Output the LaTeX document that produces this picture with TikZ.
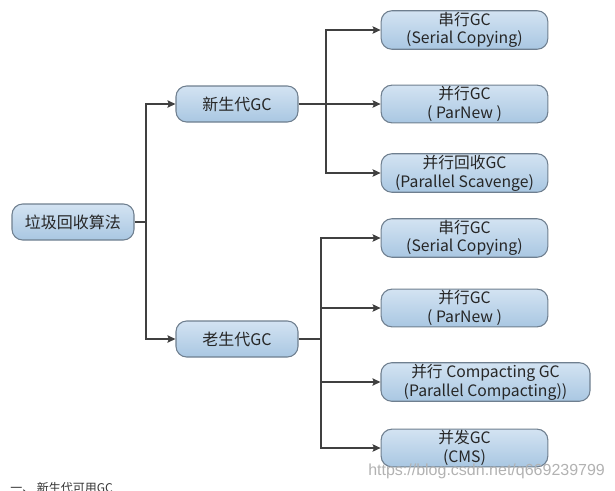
\documentclass[tikz,border=0pt]{standalone}
\usepackage{fontspec}
\setmainfont{Noto Sans CJK SC}
\newfontfamily\wmfont{Liberation Sans}
\usetikzlibrary{arrows.meta}
\definecolor{boxtop}{HTML}{D3E3F2}
\definecolor{boxbot}{HTML}{A9C7E2}
\definecolor{boxline}{HTML}{6F7F8F}
\definecolor{lnk}{HTML}{404040}
\tikzset{
  gcbox/.style={draw=boxline, line width=0.8pt, rounded corners=8pt,
    top color=boxtop, bottom color=boxbot, align=center, inner sep=1pt,
    text=black!85, font=\fontsize{11.8pt}{14pt}\selectfont},
  midbox/.style={gcbox, minimum width=91.5pt, minimum height=27pt, font=\fontsize{12pt}{14pt}\selectfont},
  leafbox/.style={gcbox, minimum width=125pt, minimum height=27pt},
  link/.style={draw=lnk, line width=1.4pt},
  arr/.style={link, -{Stealth[length=6pt,width=5.5pt,inset=1pt]}}
}
\begin{document}
\begin{tikzpicture}[x=0.75pt,y=-0.75pt]
\useasboundingbox (0,0) rectangle (615,490);
% nodes
\node[midbox] (root) at (73,222) {垃圾回收算法};
\node[midbox] (young) at (237,104) {新生代GC};
\node[midbox] (old) at (237,339) {老生代GC};
\node[leafbox] (y1) at (464.5,30) {串行GC\\(Serial Copying)};
\node[leafbox] (y2) at (464.5,104) {并行GC\\( ParNew )};
\node[leafbox] (y3) at (464.5,173) {并行回收GC\\(Parallel Scavenge)};
\node[leafbox] (o1) at (464.5,238) {串行GC\\(Serial Copying)};
\node[leafbox] (o2) at (464.5,308) {并行GC\\( ParNew )};
\node[leafbox, minimum width=156.75pt] (o3) at (485.5,382) {并行 Compacting GC\\(Parallel Compacting))};
\node[leafbox] (o4) at (464.5,448) {并发GC\\(CMS)};
% junctions
\coordinate (j1) at (146,222);
\coordinate (j2) at (326,104);
\coordinate (j3) at (321,339);
% connectors
\draw[link] (root.east) -- (j1);
\draw[arr] (j1) |- (young.west);
\draw[arr] (j1) |- (old.west);
\draw[arr] (young.east) -- (y2.west);
\draw[arr] (j2) |- (y1.west);
\draw[arr] (j2) |- (y3.west);
\draw[link] (old.east) -- (j3);
\draw[arr] (j3) |- (o1.west);
\draw[arr] (j3) |- (o2.west);
\draw[arr] (j3) |- (o3.west);
\draw[arr] (j3) |- (o4.west);
% watermark
\node[anchor=west, text=black!30, font=\wmfont\fontsize{12pt}{13pt}\selectfont, inner sep=0pt] (wm) at (368,471) {https://blog.csdn.net/q669239799};
% cut-off text at bottom
\begin{scope}
\clip (0,0) rectangle (615,490);
\node[anchor=north west, inner sep=0pt, text=black!80, font=\fontsize{9pt}{11pt}\selectfont] (cut) at (10,482) {一、 新生代可用GC};
\end{scope}
\end{tikzpicture}
\end{document}
